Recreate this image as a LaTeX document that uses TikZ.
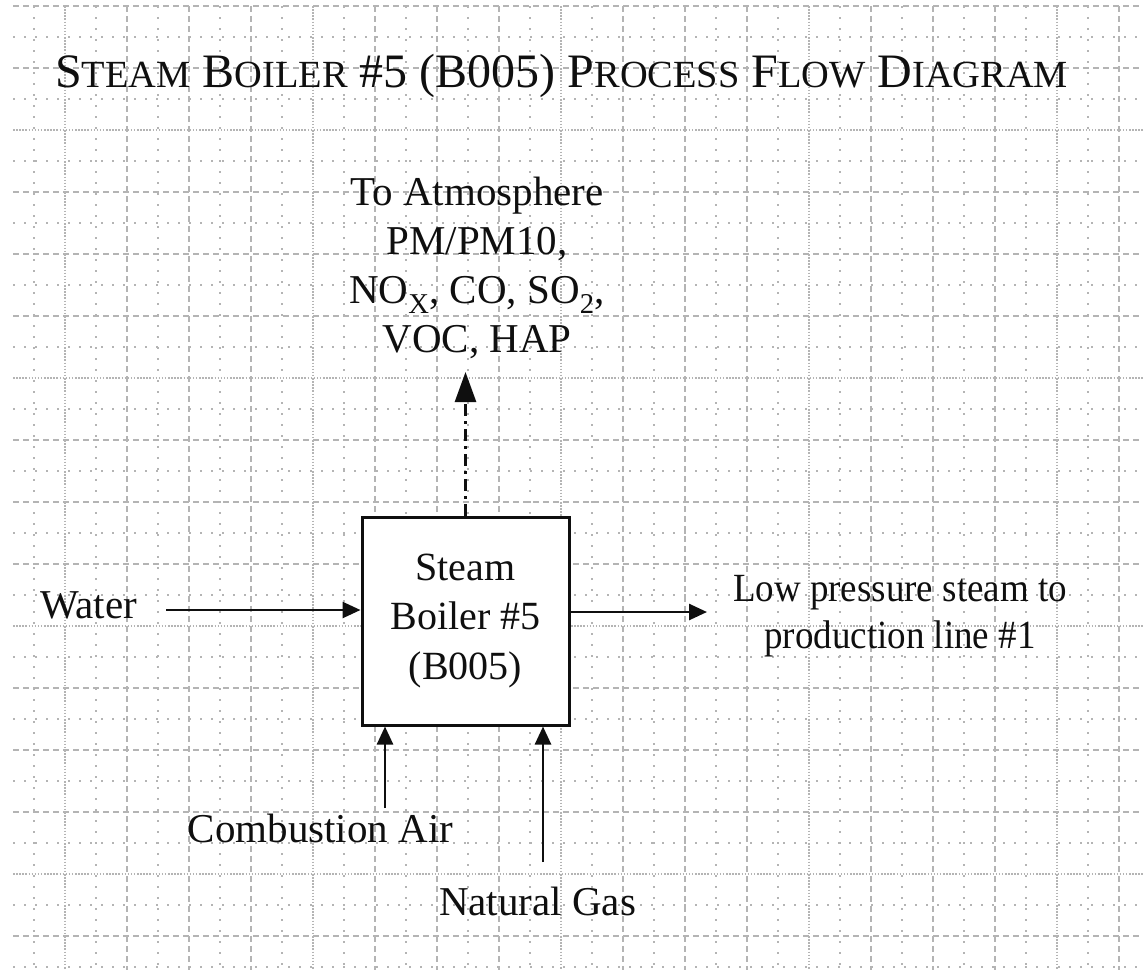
\documentclass[tikz,border=0pt]{standalone}
\usepackage{fontspec}
\setmainfont{Liberation Serif}
\newfontfamily\condensed[FakeStretch=0.925]{Liberation Serif}
\usetikzlibrary{arrows.meta}
\definecolor{gridc}{RGB}{180,180,180}
\definecolor{ink}{RGB}{15,15,15}
\newcommand{\bigsc}[1]{{\fontsize{48}{50}\selectfont #1}}
\newcommand{\smsc}[1]{{\fontsize{38.4}{40}\selectfont #1}}
\begin{document}
\begin{tikzpicture}[x=1pt,y=-1pt,
  majdash/.style={draw=gridc, line width=1.4pt, dash pattern=on 6pt off 4pt},
  majdot/.style={draw=gridc, line width=1.4pt, dash pattern=on 1.5pt off 1.6pt},
  mindot/.style={draw=gridc, line width=1.6pt, dash pattern=on 1.6pt off 9.4pt},
  label/.style={inner sep=0pt, text=ink, font=\fontsize{41}{49}\selectfont},
  boiler/.style={draw=ink, fill=white, line width=3pt, minimum width=207pt,
    minimum height=208pt, inner sep=0pt, align=center, text=ink,
    font=\fontsize{40}{49.5}\selectfont},
  flow/.style={draw=ink, line width=2.6pt, -{Triangle[length=18pt,width=16pt]}},
  emis/.style={draw=ink, line width=2.6pt, dash pattern=on 12pt off 5pt on 3pt off 5pt,
    -{Triangle[length=30pt,width=21pt]}}
]
\useasboundingbox (0,0) rectangle (1143,970);
\fill[white] (0,0) rectangle (1143,970);
% grid
\foreach \k in {0,...,17} \draw[mindot] ({34+62*\k},6) -- ({34+62*\k},970);
\foreach \k in {0,...,15} \draw[mindot] (13,{37+62*\k}) -- (1143,{37+62*\k});
\foreach \k in {2,3,4,6,7,8,10,11,12,14,15,16,18} \draw[majdash] ({3+62*\k},6) -- ({3+62*\k},970);
\foreach \k in {1,5,9,13,17} \draw[majdot] ({3+62*\k},6) -- ({3+62*\k},970);
\foreach \k in {0,1,3,4,5,7,8,9,11,12,13,15} \draw[majdash] (13,{6+62*\k}) -- (1143,{6+62*\k});
\foreach \k in {2,6,10,14} \draw[majdot] (13,{6+62*\k}) -- (1143,{6+62*\k});

% title
\node[anchor=base west, inner sep=0pt, text=ink, font=\fontsize{48}{50}\selectfont] (title) at (55,87)
  {\bigsc{S}\smsc{TEAM} \bigsc{B}\smsc{OILER} \bigsc{\#5 (B005)} \bigsc{P}\smsc{ROCESS} \bigsc{F}\smsc{LOW} \bigsc{D}\smsc{IAGRAM}};

% boiler
\node[boiler] (b) at (465.5,621) {Steam\\Boiler \#5\\(B005)};

% labels
\node[label, align=center] (atm) at (477,267.5)
  {To Atmosphere\\PM/PM10,\\NO\textsubscript{X}, CO, SO\textsubscript{2},\\VOC, HAP};
\node[label, anchor=base] (water) at (88.5,618) {Water};
\node[label, align=center, font=\condensed\fontsize{40}{47}\selectfont] (steam) at (900,616.4)
  {Low pressure steam to\\production line \#1};
\node[label, anchor=base] (air) at (320.5,842) {Combustion Air};
\node[label, anchor=base] (gas) at (537.5,915) {Natural Gas};

% connectors
\coordinate (wsrc) at (166,610);
\coordinate (steamend) at (707,612);
\coordinate (casrc) at (385,808);
\coordinate (ngsrc) at (543,862);
\coordinate (atmend) at (465.5,372);
\draw[flow] (wsrc) -- (wsrc -| b.west);
\draw[flow] (b.east |- steamend) -- (steamend);
\draw[flow] (casrc) -- (casrc |- b.south);
\draw[flow] (ngsrc) -- (ngsrc |- b.south);
\draw[emis] (b.north) -- (atmend);
\end{tikzpicture}
\end{document}
